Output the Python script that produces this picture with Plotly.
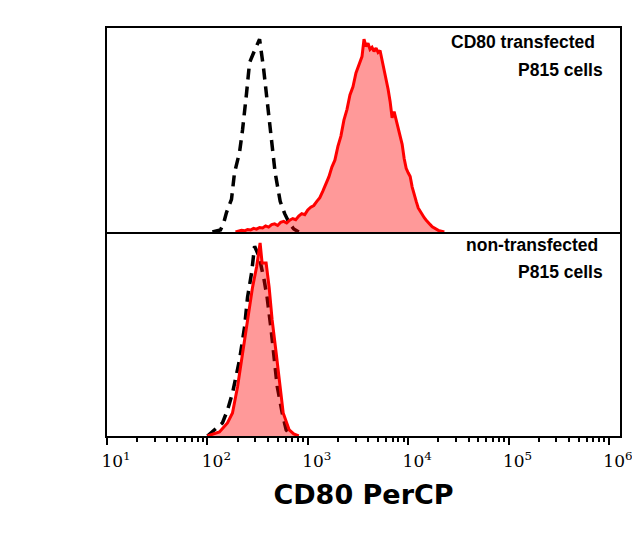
import plotly.graph_objects as go
from plotly.subplots import make_subplots

# log10 of CD80 PerCP intensity, and histogram height as fraction of panel max
top_red_x = [2.28, 2.31, 2.34, 2.37, 2.40, 2.43, 2.46, 2.49, 2.52, 2.55, 2.58, 2.61, 2.64, 2.67, 2.70,
             2.73, 2.76, 2.79, 2.82, 2.85, 2.88, 2.91, 2.94, 2.97, 3.00, 3.03, 3.06, 3.09, 3.12, 3.15,
             3.18, 3.21, 3.24, 3.27, 3.30, 3.33, 3.36, 3.39, 3.42, 3.45, 3.48, 3.51, 3.54, 3.56, 3.58,
             3.60, 3.62, 3.64, 3.66, 3.68, 3.70, 3.72, 3.74, 3.76, 3.78, 3.80, 3.82, 3.84, 3.86, 3.88,
             3.90, 3.92, 3.94, 3.96, 3.98, 4.00, 4.02, 4.04, 4.06, 4.08, 4.10, 4.12, 4.14, 4.16, 4.18,
             4.20, 4.22, 4.24, 4.26, 4.28, 4.30, 4.33, 4.36]
top_red_y = [0.0, 0.004, 0.008, 0.006, 0.012, 0.010, 0.018, 0.014, 0.022, 0.020, 0.030, 0.024, 0.036, 0.040, 0.032,
             0.048, 0.052, 0.044, 0.058, 0.066, 0.060, 0.078, 0.090, 0.085, 0.108, 0.122, 0.130, 0.150, 0.168, 0.200,
             0.236, 0.270, 0.318, 0.352, 0.420, 0.470, 0.548, 0.600, 0.672, 0.712, 0.780, 0.822, 0.860, 0.945, 0.910,
             0.925, 0.895, 0.905, 0.885, 0.902, 0.880, 0.890, 0.845, 0.800, 0.760, 0.700, 0.640, 0.560, 0.590, 0.552,
             0.500, 0.470, 0.430, 0.360, 0.312, 0.290, 0.272, 0.220, 0.178, 0.150, 0.118, 0.100, 0.084, 0.070, 0.058,
             0.044, 0.036, 0.026, 0.020, 0.012, 0.008, 0.004, 0.0]

top_black_x = [2.05, 2.10, 2.13, 2.16, 2.19, 2.24, 2.27, 2.32, 2.35, 2.39, 2.42, 2.47, 2.52, 2.56, 2.60,
               2.635, 2.675, 2.725, 2.77, 2.815, 2.86, 2.91]
top_black_y = [0.0, 0.006, 0.010, 0.040, 0.095, 0.160, 0.290, 0.390, 0.500, 0.680, 0.830, 0.890, 0.945, 0.800, 0.620,
               0.450, 0.290, 0.150, 0.090, 0.044, 0.015, 0.0]

bottom_red_x = [2.00, 2.05, 2.12, 2.20, 2.25, 2.30, 2.35, 2.40, 2.45, 2.49, 2.525, 2.545, 2.585, 2.615, 2.645,
                2.685, 2.725, 2.755, 2.815, 2.86, 2.91]
bottom_red_y = [0.0, 0.008, 0.020, 0.064, 0.113, 0.240, 0.407, 0.569, 0.730, 0.828, 0.946, 0.848, 0.848, 0.730, 0.569,
                0.407, 0.240, 0.113, 0.030, 0.010, 0.0]

bottom_black_x = [2.00, 2.05, 2.15, 2.20, 2.25, 2.32, 2.37, 2.40, 2.44, 2.47, 2.515, 2.565, 2.595, 2.635, 2.665,
                  2.695, 2.745, 2.785, 2.83]
bottom_black_y = [0.0, 0.020, 0.064, 0.127, 0.210, 0.373, 0.534, 0.680, 0.799, 0.930, 0.880, 0.765, 0.680, 0.520, 0.360,
                  0.245, 0.113, 0.030, 0.0]

decades = [1, 2, 3, 4, 5, 6]

fig = make_subplots(rows=2, cols=1, shared_xaxes=True, vertical_spacing=0)

panels = [(1, top_red_x, top_red_y, top_black_x, top_black_y),
          (2, bottom_red_x, bottom_red_y, bottom_black_x, bottom_black_y)]
for row, rx, ry, bx, by in panels:
    # control first so the red fill sits over it
    fig.add_trace(go.Scatter(x=[10 ** v for v in bx], y=by, mode="lines",
                             line=dict(color="black", width=3.5, dash="11px,7px"),
                             showlegend=False), row=row, col=1)
    fig.add_trace(go.Scatter(x=[10 ** v for v in rx], y=ry, mode="lines", fill="tozeroy",
                             fillcolor="rgba(255,0,0,0.4)", line=dict(color="#ff0000", width=3),
                             showlegend=False), row=row, col=1)

axis_style = dict(showline=True, linecolor="black", linewidth=2, showgrid=False, zeroline=False)
fig.update_xaxes(type="log", range=[1, 6.11], mirror=True, **axis_style)
fig.update_xaxes(showticklabels=False, ticks="", row=1, col=1)
fig.update_xaxes(tickvals=[10 ** d for d in decades],
                 ticktext=[f"10<sup>{d}</sup>" for d in decades],
                 mirror=False,
                 ticks="outside", ticklen=7, tickwidth=2, tickcolor="black",
                 minor=dict(ticks="outside", ticklen=4, tickwidth=1.5, tickcolor="black", dtick="D1"),
                 tickfont=dict(family="DejaVu Serif", size=17, color="black"),
                 ticklabelshift=9, ticklabelstandoff=2,
                 title=dict(text="CD80 PerCP", standoff=15,
                            font=dict(family="DejaVu Sans", size=27, color="black", weight="bold")),
                 row=2, col=1)
fig.update_yaxes(range=[0, 1], showticklabels=False, ticks="", mirror=True, **axis_style)

notes = [("CD80 transfected", 0.955, 0.966), ("P815 cells", 0.971, 0.897),
         ("non-transfected", 0.961, 0.468), ("P815 cells", 0.971, 0.402)]
for text, x, y in notes:
    fig.add_annotation(text=text, xref="paper", yref="paper", x=x, y=y, xanchor="right", yanchor="middle",
                       showarrow=False,
                       font=dict(family="Liberation Sans", size=17.5, color="black", weight="bold"))

fig.update_layout(width=640, height=535, margin=dict(l=99, r=28, t=20, b=107),
                  paper_bgcolor="white", plot_bgcolor="white")
fig.write_html("out.html")
